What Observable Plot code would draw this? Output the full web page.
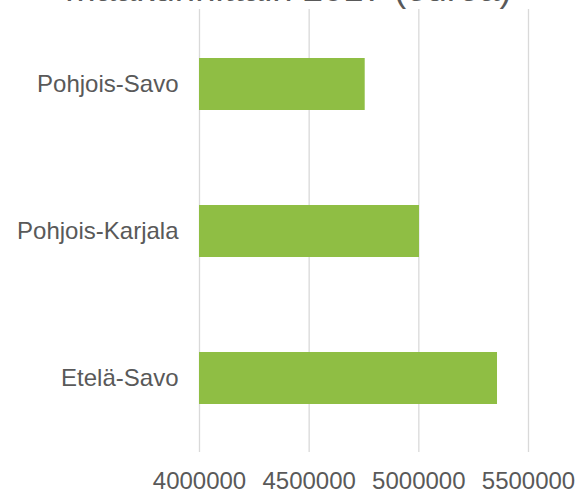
<!DOCTYPE html>
<html>
<head>
<meta charset="utf-8">
<script src="https://cdn.jsdelivr.net/npm/d3@7"></script>
<script src="https://cdn.jsdelivr.net/npm/@observablehq/plot@0.6"></script>
<style>
  html, body { margin: 0; padding: 0; background: #fff; }
  #wrap { position: relative; width: 577px; height: 489px; overflow: hidden; }
  #title {
    position: absolute; left: 0; top: -29px; width: 577px; z-index: 2;
    text-align: center; font-family: "Liberation Sans", Arial, sans-serif;
    font-size: 36.5px; line-height: 36px; color: #595959; white-space: nowrap;
  }
  #chart { position: absolute; left: 0; top: 0; z-index: 1; }
</style>
</head>
<body>
<div id="wrap">
  <div id="chart"></div>
  <div id="title">maakunnittain 2017 (euroa)</div>
</div>
<script>
const categories = ["Pohjois-Savo", "Pohjois-Karjala", "Etelä-Savo"];
const values = [4755500, 5003000, 5358700];
const xTicks = [4000000, 4500000, 5000000, 5500000];

const data = categories.map((c, i) => ({ region: c, value: values[i] }));

const chart = Plot.plot({
  width: 577,
  height: 489,
  marginLeft: 199,
  marginRight: 49,
  marginTop: 9,
  marginBottom: 37,
  style: { fontFamily: "Liberation Sans, Arial, sans-serif", fontSize: "24px", color: "#595959", background: "transparent" },
  x: { domain: [xTicks[0], xTicks[xTicks.length - 1]], ticks: xTicks, label: null },
  y: { domain: categories, paddingInner: 0.648, paddingOuter: 0.324, label: null },
  marks: [
    Plot.gridX(xTicks, { stroke: "#d9d9d9", strokeOpacity: 1, strokeWidth: 1.3 }),
    Plot.barX(data, { x: "value", y: "region", fill: "#8fbe44", clip: true }),
    Plot.axisX(xTicks, { tickSize: 0, tickPadding: 19, tickFormat: d => String(d), fill: "#595959", fontSize: 24, label: null }),
    Plot.axisY({ tickSize: 0, tickPadding: 21, fill: "#595959", fontSize: 24, label: null })
  ]
});
document.getElementById("chart").appendChild(chart);
</script>
</body>
</html>
